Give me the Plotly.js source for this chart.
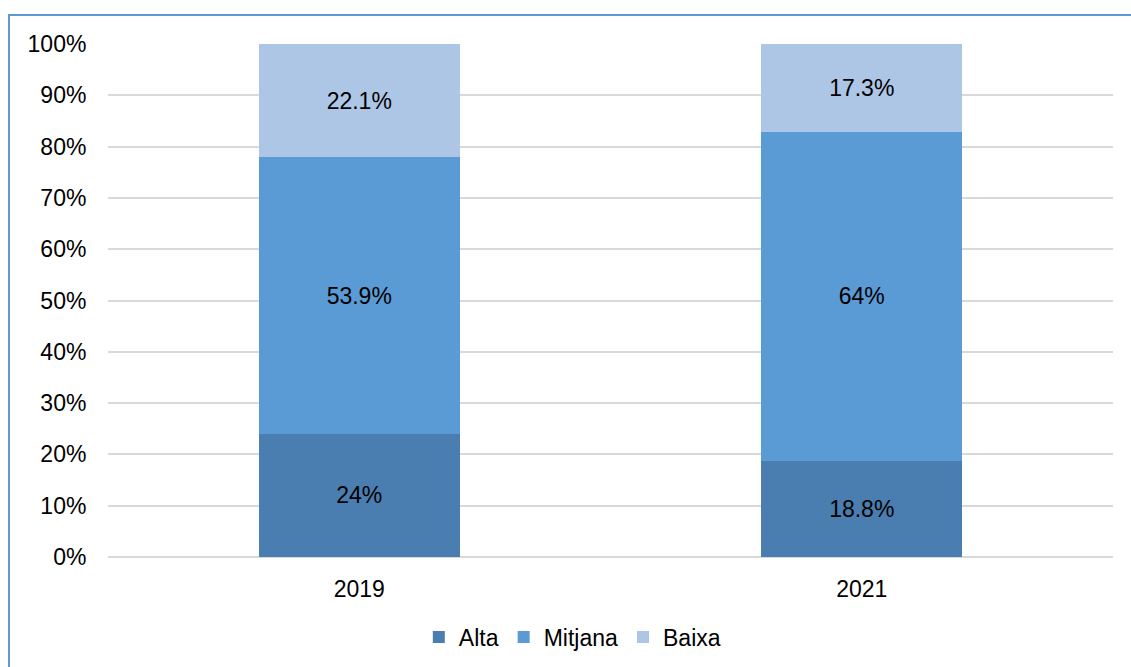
<!DOCTYPE html>
<html>
<head>
<meta charset="utf-8">
<script src="https://cdn.plot.ly/plotly-3.0.1.min.js"></script>
<style>
html,body{margin:0;padding:0;background:#fff;overflow:hidden;}
#chart{width:1131px;height:667px;}
</style>
</head>
<body>
<div id="chart"></div>
<script>
const years = ['2019', '2021'];
const seriesNames = ['Alta', 'Mitjana', 'Baixa'];
const alta = [24, 18.8];
const mitjana = [53.9, 64];
const baixa = [22.1, 17.3];
const colors = ['#4a7eb0', '#5b9bd5', '#adc6e5'];
const yTicks = [0, 10, 20, 30, 40, 50, 60, 70, 80, 90, 100];

const FONT = 'Liberation Sans, Arial, sans-serif';
const FS = 23;
const values = [alta, mitjana, baixa];

const traces = seriesNames.map((name, i) => ({
  type: 'bar',
  name: name,
  x: years,
  y: values[i],
  width: 0.4,
  marker: {color: colors[i], line: {width: 0}},
  texttemplate: '%{y}%',
  textposition: 'inside',
  insidetextanchor: 'middle',
  textangle: 0,
  textfont: {family: FONT, size: FS, color: '#000'},
  hoverinfo: 'none',
  cliponaxis: true
}));

const layout = {
  width: 1131,
  height: 667,
  margin: {l: 108, r: 18, t: 44, b: 110, autoexpand: false},
  paper_bgcolor: '#ffffff',
  plot_bgcolor: '#ffffff',
  barmode: 'stack',
  showlegend: true,
  font: {family: FONT, size: FS, color: '#000'},
  xaxis: {
    type: 'category',
    categoryorder: 'array',
    categoryarray: years,
    automargin: false,
    showgrid: false,
    zeroline: false,
    showline: false,
    ticks: 'outside',
    ticklen: 11,
    tickcolor: 'rgba(0,0,0,0)',
    tickfont: {family: FONT, size: FS, color: '#000'}
  },
  yaxis: {
    range: [0, 100],
    automargin: false,
    tickmode: 'array',
    tickvals: yTicks,
    ticktext: yTicks.map(v => v + '%'),
    showgrid: true,
    gridcolor: '#d9d9d9',
    gridwidth: 2,
    zeroline: true,
    zerolinecolor: '#d9d9d9',
    zerolinewidth: 2,
    showline: false,
    ticks: 'outside',
    ticklen: 16,
    tickcolor: 'rgba(0,0,0,0)',
    tickfont: {family: FONT, size: FS, color: '#000'}
  },
  legend: {
    orientation: 'h',
    x: 0.462,
    xanchor: 'center',
    yref: 'container',
    y: 0.045,
    yanchor: 'middle',
    traceorder: 'normal',
    font: {family: FONT, size: FS, color: '#000'},
    itemclick: false,
    bgcolor: 'rgba(0,0,0,0)'
  },
  shapes: [{
    type: 'rect',
    xref: 'paper', yref: 'paper',
    x0: -0.0985, x1: 1.2,
    y0: -0.5, y1: 1.0565,
    line: {color: '#5b9bd5', width: 2},
    fillcolor: 'rgba(0,0,0,0)',
    layer: 'above'
  }]
};

Plotly.newPlot('chart', traces, layout, {displayModeBar: false, staticPlot: true});
</script>
</body>
</html>
